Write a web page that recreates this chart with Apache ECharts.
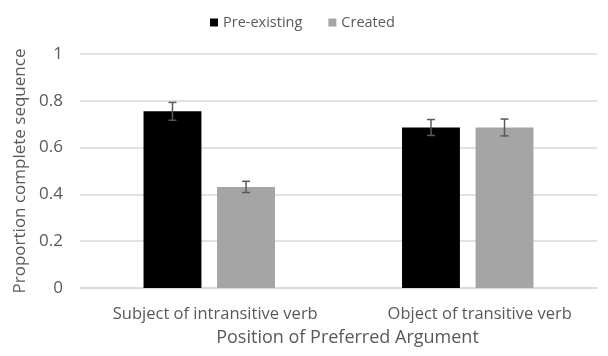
<!DOCTYPE html>
<html><head><meta charset="utf-8">
<script src="https://cdn.jsdelivr.net/npm/echarts@6/dist/echarts.min.js"></script>
<style>html,body{margin:0;padding:0;background:#fff}#c{width:608px;height:356px}</style>
</head><body><div id="c"></div>
<script>
const categories = ['Subject of intransitive verb', 'Object of transitive verb'];
const seriesNames = ['Pre-existing', 'Created'];
const preExisting = [0.755, 0.686];
const created = [0.432, 0.686];
const preExistingErr = [0.038, 0.034];
const createdErr = [0.024, 0.036];
const yTicks = [0, 0.2, 0.4, 0.6, 0.8, 1];

const BAR_W = 22.4, BAR_GAP = 27;
const FONT = '"Open Sans", sans-serif';
const chart = echarts.init(document.getElementById('c'), null, {renderer: 'canvas'});

function errSeries(vals, errs, idx) {
  return {
    type: 'custom',
    name: seriesNames[idx] + ' err',
    z: 10,
    silent: true,
    data: vals.map((v, i) => [i, v - errs[i], v + errs[i]]),
    renderItem: function (params, api) {
      const band = api.size([1, 0])[0];
      const bw = band * BAR_W / 100;
      const off = (bw * (1 + BAR_GAP / 100) / 2) * (idx === 0 ? -1 : 1);
      const lo = api.coord([api.value(0), api.value(1)]);
      const hi = api.coord([api.value(0), api.value(2)]);
      const x = lo[0] + off;
      const cap = 4;
      const st = {stroke: '#595959', lineWidth: 1.5};
      return {type: 'group', children: [
        {type: 'line', shape: {x1: x, y1: lo[1], x2: x, y2: hi[1]}, style: st},
        {type: 'line', shape: {x1: x - cap, y1: lo[1], x2: x + cap, y2: lo[1]}, style: st},
        {type: 'line', shape: {x1: x - cap, y1: hi[1], x2: x + cap, y2: hi[1]}, style: st}
      ]};
    }
  };
}

chart.setOption({
  animation: false,
  textStyle: {fontFamily: FONT},
  legend: {
    data: seriesNames,
    top: 10, left: 205,
    itemWidth: 8, itemHeight: 8, itemGap: 26, icon: 'rect',
    textStyle: {fontSize: 14.5, color: '#595959', fontFamily: FONT}
  },
  grid: {left: 80, right: 11, top: 54, bottom: 68, containLabel: false},
  xAxis: {
    type: 'category', data: categories,
    name: 'Position of Preferred Argument', nameLocation: 'middle', nameGap: 41,
    nameTextStyle: {fontSize: 18, color: '#595959', fontFamily: FONT, padding: [0, 0, 0, 18]},
    axisLine: {lineStyle: {color: '#d9d9d9', width: 1.5}},
    axisTick: {show: false},
    axisLabel: {
      interval: 0, hideOverlap: false,
      fontSize: 16.5, color: '#595959', margin: 18, fontFamily: FONT,
      formatter: (v, i) => '{' + (i === 0 ? 'a' : 'b') + '|' + v + '}',
      rich: {
        a: {fontSize: 16.5, color: '#595959', fontFamily: FONT, padding: [0, 0, 0, 12]},
        b: {fontSize: 16.5, color: '#595959', fontFamily: FONT, padding: [0, 0, 0, 24]}
      }
    }
  },
  yAxis: {
    type: 'value', min: 0, max: 1, interval: 0.2,
    name: 'Proportion complete sequence', nameLocation: 'middle', nameGap: 51,
    nameTextStyle: {fontSize: 17, color: '#595959', fontFamily: FONT},
    axisLine: {show: false}, axisTick: {show: false},
    splitLine: {lineStyle: {color: '#d9d9d9', width: 1.5}},
    axisLabel: {fontSize: 17, color: '#595959', margin: 17, fontFamily: FONT,
      formatter: v => yTicks.includes(+v.toFixed(1)) ? String(+v.toFixed(1)) : ''}
  },
  series: [
    {type: 'bar', name: seriesNames[0], data: preExisting, barWidth: BAR_W + '%', barGap: BAR_GAP + '%',
     itemStyle: {color: '#000000'}},
    {type: 'bar', name: seriesNames[1], data: created, barWidth: BAR_W + '%', barGap: BAR_GAP + '%',
     itemStyle: {color: '#a5a5a5'}},
    errSeries(preExisting, preExistingErr, 0),
    errSeries(created, createdErr, 1)
  ]
});
</script></body></html>
